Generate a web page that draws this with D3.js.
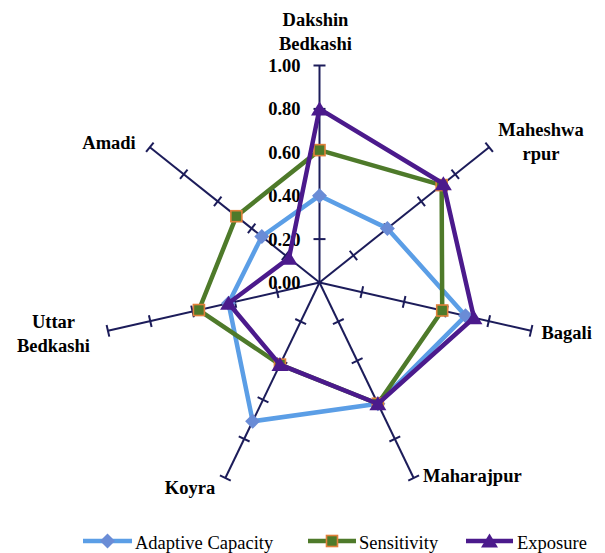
<!DOCTYPE html>
<html>
<head>
<meta charset="utf-8">
<script src="https://cdn.jsdelivr.net/npm/d3@7"></script>
<style>
  html, body { margin: 0; padding: 0; background: #fff; }
  svg { display: block; }
</style>
</head>
<body>
<svg id="chart" width="605" height="553"></svg>
<script>
const categories = ["Dakshin Bedkashi", "Maheshwarpur", "Bagali", "Maharajpur", "Koyra", "Uttar Bedkashi", "Amadi"];
const adaptiveCapacity = [0.40, 0.40, 0.69, 0.62, 0.71, 0.43, 0.34];
const sensitivity      = [0.61, 0.72, 0.58, 0.62, 0.42, 0.57, 0.49];
const exposure         = [0.80, 0.73, 0.73, 0.62, 0.42, 0.43, 0.18];
const tickValues = [0, 0.2, 0.4, 0.6, 0.8, 1.0];
const tickLabels = ["0.00", "0.20", "0.40", "0.60", "0.80", "1.00"];
const seriesNames = ["Adaptive Capacity", "Sensitivity", "Exposure"];

const FONT = "'Liberation Serif'";
const cx = 319.5, cy = 282.5, R = 217;
const svg = d3.select("#chart").style("font-family", FONT);
const g = svg.append("g").attr("transform", `translate(${cx},${cy})`);

const r = d3.scaleLinear().domain([0, 1]).range([0, R]);
const angle = d3.scaleLinear().domain([0, categories.length]).range([0, 2 * Math.PI]);
const axisColor = "#1c1c5a";

const px = (i, v) => r(v) * Math.sin(angle(i));
const py = (i, v) => -r(v) * Math.cos(angle(i));

// axes
categories.forEach((c, i) => {
  g.append("line")
    .attr("x1", 0).attr("y1", 0)
    .attr("x2", px(i, 1)).attr("y2", py(i, 1))
    .attr("stroke", axisColor).attr("stroke-width", 2);
  const a = angle(i);
  const nx = Math.cos(a), ny = Math.sin(a);
  tickValues.slice(1).forEach(t => {
    const x = px(i, t), y = py(i, t);
    g.append("line")
      .attr("x1", x - nx * 6).attr("y1", y - ny * 6)
      .attr("x2", x + nx * 6).attr("y2", y + ny * 6)
      .attr("stroke", axisColor).attr("stroke-width", 2);
  });
});

// tick labels on top axis
tickValues.forEach((t, k) => {
  g.append("text")
    .attr("x", -19).attr("y", -r(t) + 6.5)
    .attr("text-anchor", "end")
    .style("font-family", FONT)
    .attr("font-size", "18.5px").attr("font-weight", "bold").attr("fill", "#000")
    .text(tickLabels[k]);
});

const series = [
  { name: seriesNames[0], values: adaptiveCapacity, line: "#5b9ee6", marker: "diamond", fill: "#6a8cd6", stroke: "#6a8cd6" },
  { name: seriesNames[1], values: sensitivity, line: "#4e7a2a", marker: "square", fill: "#4e7a2a", stroke: "#e0803a" },
  { name: seriesNames[2], values: exposure, line: "#4b1a8c", marker: "triangle", fill: "#4b1a8c", stroke: "#4b1a8c" }
];

const radial = d3.lineRadial()
  .angle((d, i) => angle(i))
  .radius(d => r(d))
  .curve(d3.curveLinearClosed);

function drawMarker(sel, type, x, y, s) {
  if (type === "diamond") {
    sel.append("path")
      .attr("d", `M${x},${y - 7.5}L${x + 7.5},${y}L${x},${y + 7.5}L${x - 7.5},${y}Z`)
      .attr("fill", s.fill);
  } else if (type === "square") {
    sel.append("rect")
      .attr("x", x - 5.5).attr("y", y - 5.5).attr("width", 11).attr("height", 11)
      .attr("fill", s.fill).attr("stroke", s.stroke).attr("stroke-width", 1.6);
  } else {
    sel.append("path")
      .attr("d", `M${x},${y - 7.5}L${x + 8.5},${y + 6.5}L${x - 8.5},${y + 6.5}Z`)
      .attr("fill", s.fill);
  }
}

series.forEach(s => {
  const sg = g.append("g");
  sg.append("path")
    .attr("d", radial(s.values))
    .attr("fill", "none")
    .attr("stroke", s.line)
    .attr("stroke-width", 4.5)
    .attr("stroke-linejoin", "round");
  s.values.forEach((v, i) => drawMarker(sg, s.marker, px(i, v), py(i, v), s));
});

// category labels
const labelSpecs = [
  { lines: ["Dakshin", "Bedkashi"], x: 315.5, y: 26, anchor: "middle" },
  { lines: ["Maheshwa", "rpur"], x: 541, y: 136, anchor: "middle" },
  { lines: ["Bagali"], x: 541.5, y: 339, anchor: "start" },
  { lines: ["Maharajpur"], x: 423, y: 482, anchor: "start" },
  { lines: ["Koyra"], x: 190, y: 494, anchor: "middle" },
  { lines: ["Uttar", "Bedkashi"], x: 53.5, y: 328, anchor: "middle" },
  { lines: ["Amadi"], x: 109, y: 148.5, anchor: "middle" }
];
labelSpecs.forEach(l => {
  const t = svg.append("text")
    .style("font-family", FONT)
    .attr("font-size", "18.5px").attr("font-weight", "bold").attr("fill", "#000")
    .attr("text-anchor", l.anchor);
  l.lines.forEach((ln, k) => {
    t.append("tspan").attr("x", l.x).attr("y", l.y + k * 23.5).text(ln);
  });
});

// legend
const legendItems = [
  { s: series[0], x1: 83, x2: 132, tx: 135 },
  { s: series[1], x1: 308, x2: 356, tx: 359 },
  { s: series[2], x1: 466, x2: 513, tx: 517 }
];
const ly = 541;
legendItems.forEach(li => {
  const lg = svg.append("g");
  lg.append("line")
    .attr("x1", li.x1).attr("x2", li.x2).attr("y1", ly).attr("y2", ly)
    .attr("stroke", li.s.line).attr("stroke-width", 4.5);
  drawMarker(lg, li.s.marker, (li.x1 + li.x2) / 2, ly, li.s);
  lg.append("text")
    .attr("x", li.tx).attr("y", ly + 8)
    .style("font-family", FONT)
    .attr("font-size", "18.5px").attr("fill", "#000")
    .text(li.s.name);
});
</script>
</body>
</html>
